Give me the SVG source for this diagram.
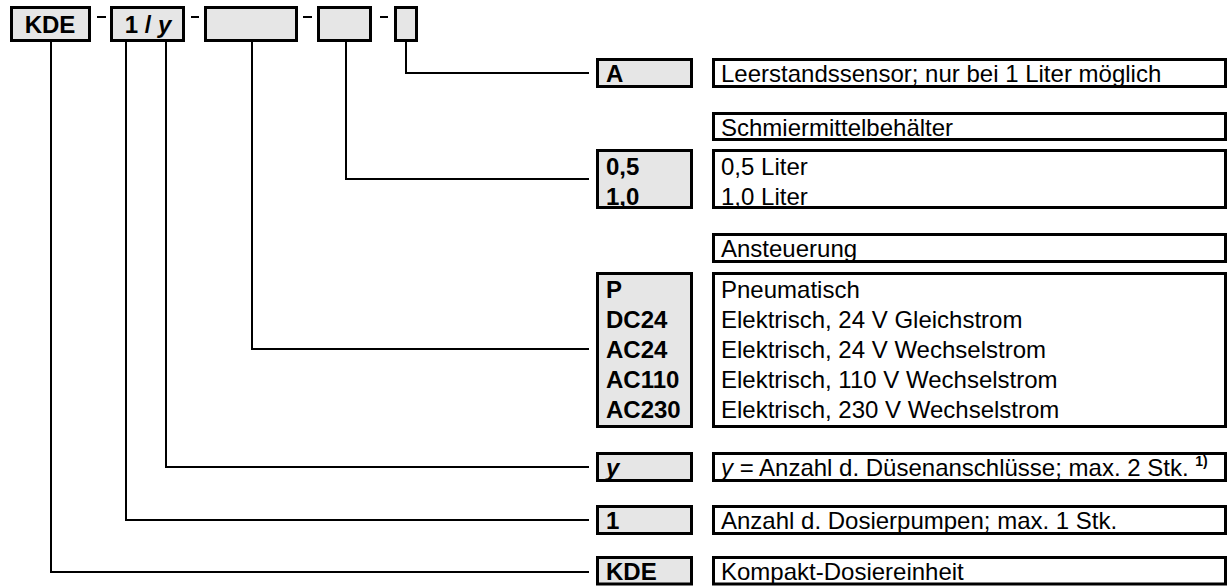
<svg xmlns="http://www.w3.org/2000/svg" width="1229" height="586" viewBox="0 0 1229 586">
  <style>
    .code { fill: #e6e6e6; stroke: #000; stroke-width: 3; }
    .desc { fill: #fff; stroke: #000; stroke-width: 3; }
    .wire { fill: none; stroke: #000; stroke-width: 2; }
    text { font-family: "Liberation Sans", Arial, sans-serif; font-size: 24px; fill: #000; }
    .b { font-weight: bold; }
  </style>
  <rect width="1229" height="586" fill="#fff"/>

  <!-- order code header -->
  <g id="header">
    <rect class="code" x="11.5" y="7.5" width="78" height="33"/>
    <text class="b" x="50" y="33" text-anchor="middle">KDE</text>
    <rect class="code" x="111.5" y="7.5" width="72" height="33"/>
    <text class="b" x="148" y="33" text-anchor="middle">1 / <tspan font-style="italic">y</tspan></text>
    <rect class="code" x="205.5" y="7.5" width="91" height="33"/>
    <rect class="code" x="318.5" y="7.5" width="52" height="33"/>
    <rect class="code" x="395.5" y="7.5" width="21" height="33"/>
    <g class="wire">
      <line x1="97" y1="17" x2="106" y2="17"/>
      <line x1="191" y1="17" x2="199" y2="17"/>
      <line x1="303" y1="17" x2="312" y2="17"/>
      <line x1="380" y1="17" x2="388" y2="17"/>
    </g>
  </g>

  <!-- leader lines from each code position to its option block -->
  <g id="connectors" class="wire">
    <polyline points="406,42 406,73 589,73"/>
    <polyline points="346,42 346,179 589,179"/>
    <polyline points="252,42 252,349 589,349"/>
    <polyline points="166,42 166,467 589,467"/>
    <polyline points="126,42 126,520 589,520"/>
    <polyline points="51,42 51,572 589,572"/>
  </g>

  <g id="opt-sensor">
    <rect class="code" x="597.5" y="59.5" width="94" height="27"/>
    <text class="b" x="606" y="81.5">A</text>
    <rect class="desc" x="713.5" y="59.5" width="512" height="27"/>
    <text x="721" y="81.5">Leerstandssensor; nur bei 1 Liter möglich</text>
  </g>

  <g id="opt-container">
    <rect class="desc" x="713.5" y="113.5" width="512" height="26"/>
    <text x="721" y="135.5">Schmiermittelbehälter</text>
    <rect class="code" x="597.5" y="150.5" width="94" height="57"/>
    <text class="b" x="606" y="174.5">0,5</text>
    <text class="b" x="606" y="204.5">1,0</text>
    <rect class="desc" x="713.5" y="150.5" width="512" height="57"/>
    <text x="721" y="174.5">0,5 Liter</text>
    <text x="721" y="204.5">1,0 Liter</text>
  </g>

  <g id="opt-control">
    <rect class="desc" x="713.5" y="234.5" width="512" height="27"/>
    <text x="721" y="256.5">Ansteuerung</text>
    <rect class="code" x="597.5" y="273.5" width="94" height="153"/>
    <text class="b" x="606" y="297.5">P</text>
    <text class="b" x="606" y="327.5">DC24</text>
    <text class="b" x="606" y="357.5">AC24</text>
    <text class="b" x="606" y="387.5">AC110</text>
    <text class="b" x="606" y="417.5">AC230</text>
    <rect class="desc" x="713.5" y="273.5" width="512" height="153"/>
    <text x="721" y="297.5">Pneumatisch</text>
    <text x="721" y="327.5">Elektrisch, 24 V Gleichstrom</text>
    <text x="721" y="357.5">Elektrisch, 24 V Wechselstrom</text>
    <text x="721" y="387.5">Elektrisch, 110 V Wechselstrom</text>
    <text x="721" y="417.5">Elektrisch, 230 V Wechselstrom</text>
  </g>

  <g id="opt-nozzles">
    <rect class="code" x="597.5" y="453.5" width="94" height="27"/>
    <text class="b" x="606" y="475.5" font-style="italic">y</text>
    <rect class="desc" x="713.5" y="453.5" width="512" height="27"/>
    <text x="721" y="475.5"><tspan font-style="italic">y</tspan> = Anzahl d. Düsenanschlüsse; max. 2 Stk. <tspan class="b" font-size="14" dy="-10">1)</tspan></text>
  </g>

  <g id="opt-pumps">
    <rect class="code" x="597.5" y="506.5" width="94" height="27"/>
    <text class="b" x="606" y="528.5">1</text>
    <rect class="desc" x="713.5" y="506.5" width="512" height="27"/>
    <text x="721" y="528.5">Anzahl d. Dosierpumpen; max. 1 Stk.</text>
  </g>

  <g id="opt-unit">
    <rect class="code" x="597.5" y="557.5" width="94" height="26.5"/>
    <text class="b" x="606" y="579.5">KDE</text>
    <rect class="desc" x="713.5" y="557.5" width="512" height="26.5"/>
    <text x="721" y="579.5">Kompakt-Dosiereinheit</text>
  </g>
</svg>
